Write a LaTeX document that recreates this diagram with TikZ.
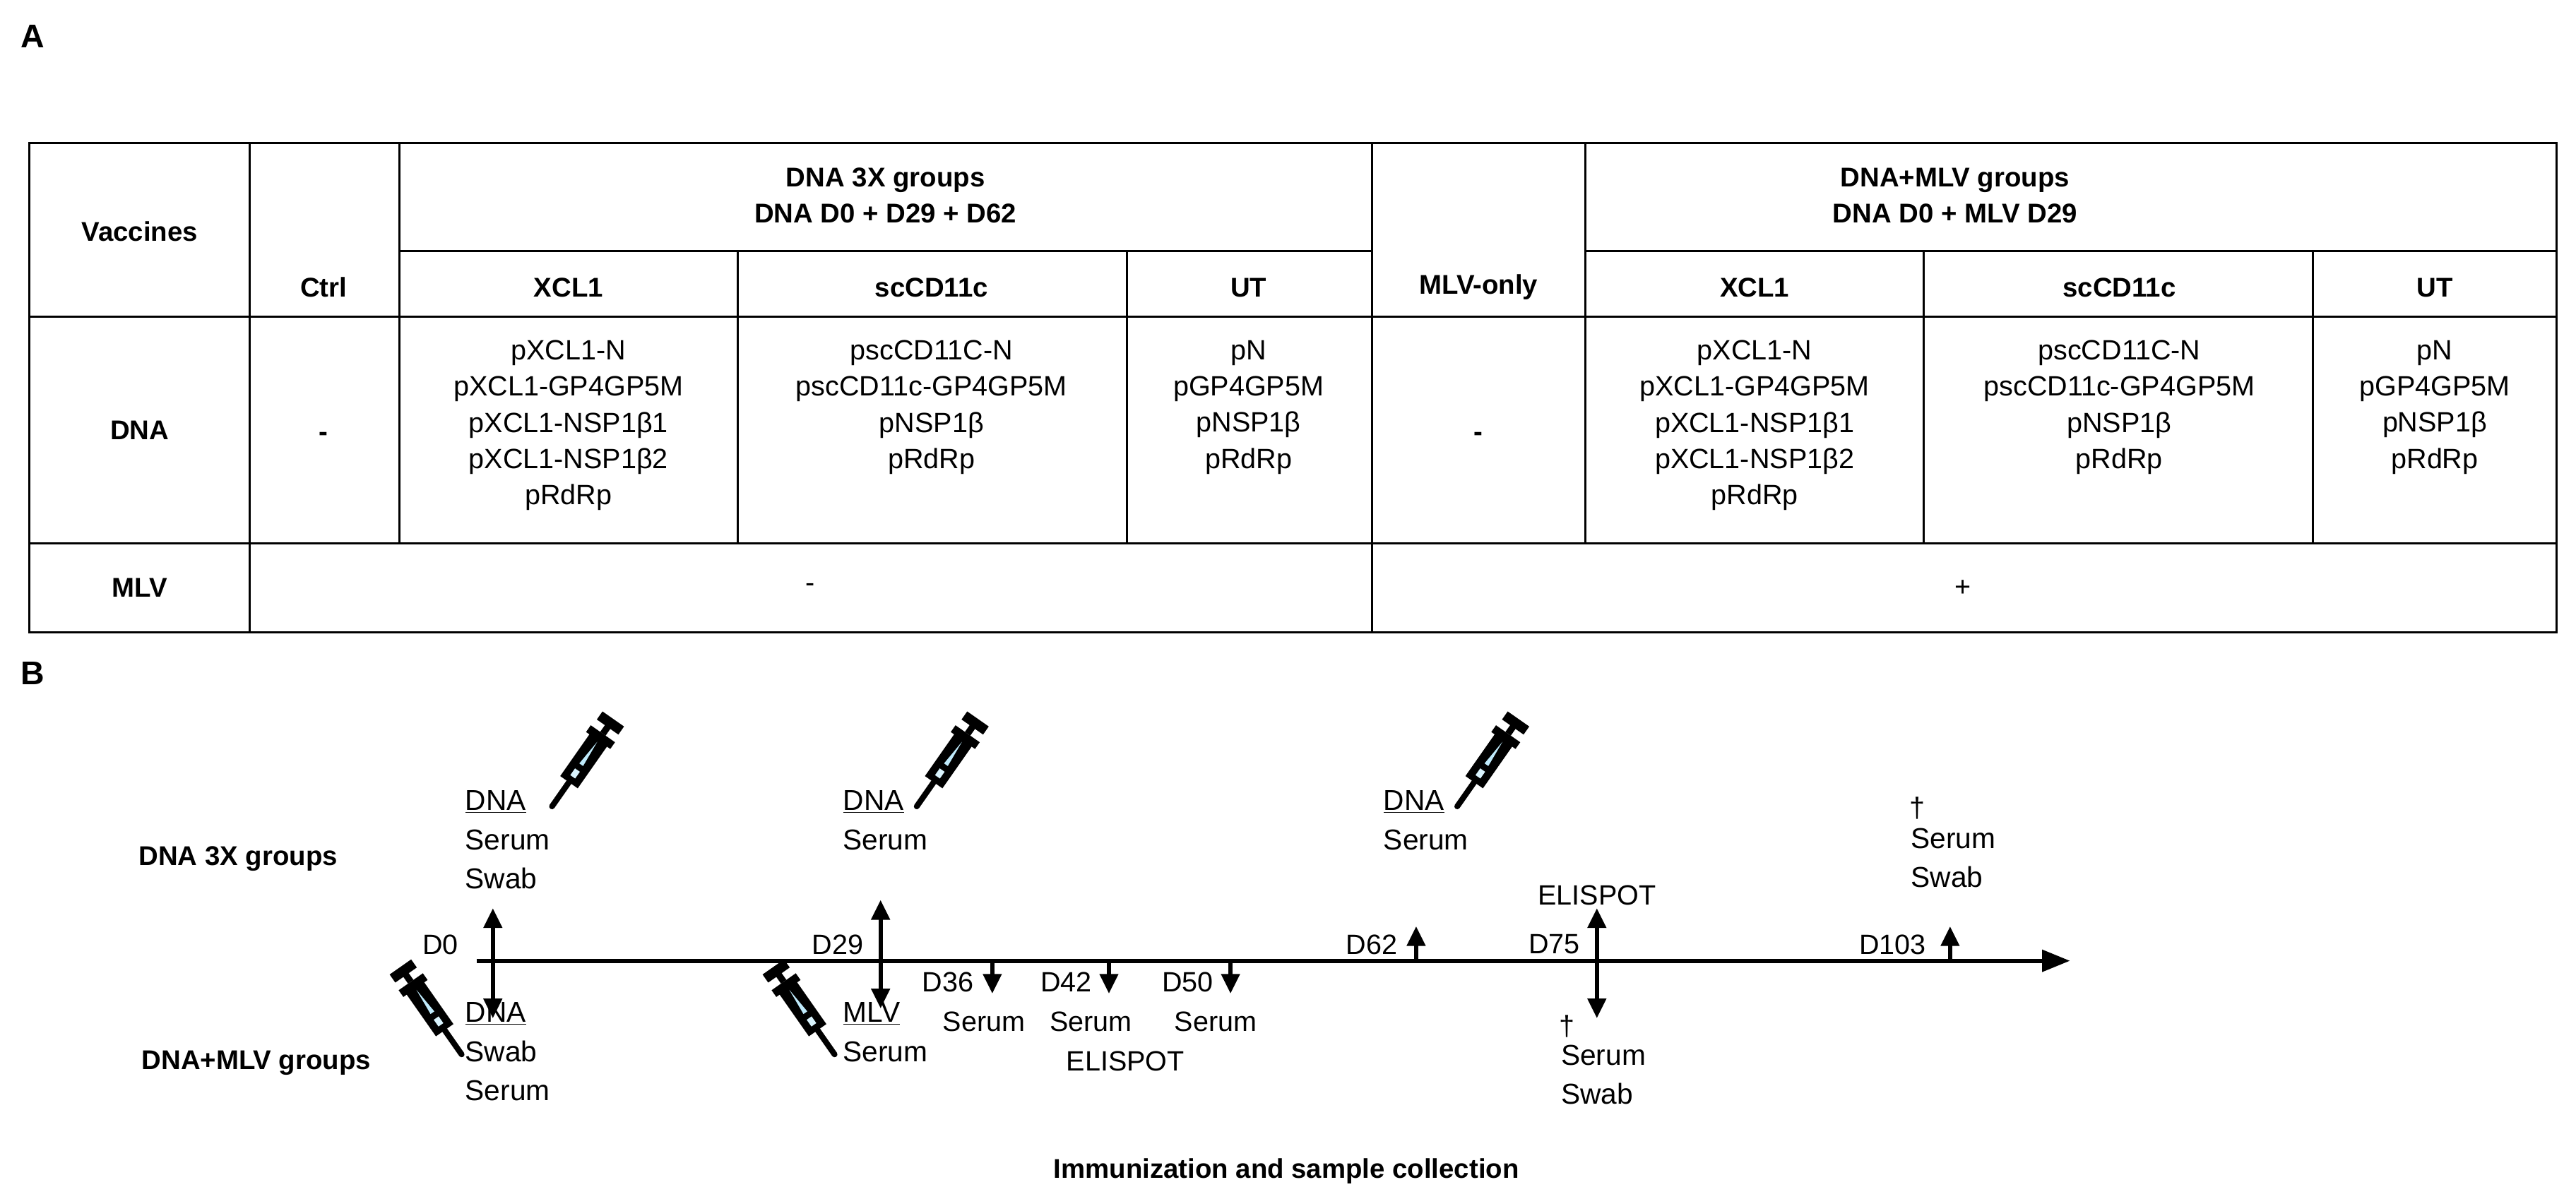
\documentclass[tikz,border=0pt]{standalone}
\usepackage{fontspec}
\setmainfont{Liberation Sans}
\usetikzlibrary{arrows.meta}
\begin{document}
\begin{tikzpicture}[x=1pt,y=-1pt,
  t/.style={font=\fontsize{17}{22}\selectfont,align=center,inner sep=0pt},
  b/.style={font=\fontsize{16.5}{22}\selectfont\bfseries,align=center,inner sep=0pt},
  tl/.style={font=\fontsize{17.5}{24}\selectfont,align=left,inner sep=0pt,anchor=north west},
  grid/.style={line width=1.3pt},
  ax/.style={line width=2.6pt},
  ar/.style={line width=2.6pt,-{Triangle[width=11pt,length=12pt]}},
  dar/.style={line width=2.6pt,{Triangle[width=11pt,length=12pt]}-{Triangle[width=11pt,length=12pt]}},
  syringe/.pic={
    \draw[line width=3.5pt,line cap=round] (0,0) -- (0,-18);
    \fill[black] (-6.5,-18) rectangle (6.5,-52);
    \fill[cyan!15] (-1.8,-22) rectangle (1.8,-27);
    \fill[cyan!25] (-1.4,-31) -- (1.4,-31) -- (0,-48) -- cycle;
    \fill[black] (-9,-49) rectangle (9,-54);
    \draw[line width=4pt] (0,-54) -- (0,-60);
    \fill[black] (-8,-59) rectangle (8,-65);
  }]
\useasboundingbox (0,0) rectangle (1568,730);
% labels
\node[b,font=\fontsize{20}{22}\selectfont\bfseries] (lA) at (20,22) {A};
\node[b,font=\fontsize{20}{22}\selectfont\bfseries] (lB) at (20,410) {B};
% table
\draw[grid] (18,87) rectangle (1556,385);
\draw[grid] (18,193) -- (1556,193);
\draw[grid] (18,331) -- (1556,331);
\draw[grid] (243,153) -- (835,153) (965,153) -- (1556,153);
\draw[grid] (152,87) -- (152,385);
\draw[grid] (243,87) -- (243,331);
\draw[grid] (835,87) -- (835,385);
\draw[grid] (965,87) -- (965,331);
\foreach \x in {449,686,1171,1408} \draw[grid] (\x,153) -- (\x,331);
\node[b] (hv) at (85,141) {Vaccines};
\node[b] (hc) at (197,175) {Ctrl};
\node[b] (h3) at (539,119) {DNA 3X groups\\DNA D0 + D29 + D62};
\node[b] (hm) at (1190,119) {DNA+MLV groups\\DNA D0 + MLV D29};
\node[b] (hx1) at (346,175) {XCL1};
\node[b] (hs1) at (567,175) {scCD11c};
\node[b] (hu1) at (760,175) {UT};
\node[b] (hmo) at (900,175) {MLV-only};
\node[b] (hx2) at (1068,175) {XCL1};
\node[b] (hs2) at (1290,175) {scCD11c};
\node[b] (hu2) at (1482,175) {UT};
\node[b] (rd) at (85,262) {DNA};
\node[b] (rm) at (85,358) {MLV};
\node[b] (d1) at (197,266) {-};
\node[b] (d2) at (900,266) {-};
\node[t] (x1) at (346,259) {pXCL1-N\\pXCL1-GP4GP5M\\pXCL1-NSP1β1\\pXCL1-NSP1β2\\pRdRp};
\node[t] (s1) at (567,248) {pscCD11C-N\\pscCD11c-GP4GP5M\\pNSP1β\\pRdRp};
\node[t] (u1) at (760,248) {pN\\pGP4GP5M\\pNSP1β\\pRdRp};
\node[t] (x2) at (1068,259) {pXCL1-N\\pXCL1-GP4GP5M\\pXCL1-NSP1β1\\pXCL1-NSP1β2\\pRdRp};
\node[t] (s2) at (1290,248) {pscCD11C-N\\pscCD11c-GP4GP5M\\pNSP1β\\pRdRp};
\node[t] (u2) at (1482,248) {pN\\pGP4GP5M\\pNSP1β\\pRdRp};
\node[t] (m1) at (493,358) {-};
\node[t] (m2) at (1195,358) {+};
% timeline
\coordinate (a0) at (290,585);
\coordinate (a1) at (1260,585);
\draw[ax,-{Triangle[width=13pt,length=17pt]}] (a0) -- (a1);
\node[b] (g1) at (145,523) {DNA 3X groups};
\node[b] (g2) at (156,647) {DNA+MLV groups};
\node[b] (cap) at (783,713) {Immunization and sample collection};
% D0
\coordinate (p0u) at (300,553); \coordinate (p0d) at (300,620);
\draw[dar] (p0d) -- (p0u);
\node[t] (l0) at (268,575) {D0};
\node[tl] (up0) at (283,481) {\underline{DNA}\\Serum\\Swab};
\node[tl] (dn0) at (283,610) {\underline{DNA}\\Swab\\Serum};
\pic[rotate=-35] at (336,491) {syringe};
\pic[rotate=35] at (281,642) {syringe};
% D29
\coordinate (p29u) at (536,548); \coordinate (p29d) at (536,614);
\draw[dar] (p29d) -- (p29u);
\node[t] (l29) at (510,575) {D29};
\node[tl] (up29) at (513,481) {\underline{DNA}\\Serum};
\node[tl] (dn29) at (513,610) {\underline{MLV}\\Serum};
\pic[rotate=-35] at (558,491) {syringe};
\pic[rotate=35] at (508,642) {syringe};
% D36 D42 D50
\foreach \x/\n in {604/36,675/42,749/50} {
  \coordinate (q\n) at (\x,585); \coordinate (e\n) at (\x,605);
  \draw[ar] (q\n) -- (e\n);
}
\node[t] (l36) at (577,598) {D36};
\node[t] (s36) at (599,622) {Serum};
\node[t] (l42) at (649,598) {D42};
\node[t] (s42) at (664,622) {Serum};
\node[t] (el42) at (685,646) {ELISPOT};
\node[t] (l50) at (723,598) {D50};
\node[t] (s50) at (740,622) {Serum};
% D62
\coordinate (q62) at (862,585); \coordinate (e62) at (862,564);
\draw[ar] (q62) -- (e62);
\node[t] (l62) at (835,575) {D62};
\node[tl] (up62) at (842,481) {\underline{DNA}\\Serum};
\pic[rotate=-35] at (887,491) {syringe};
% D75
\coordinate (p75u) at (972,553); \coordinate (p75d) at (972,620);
\draw[dar] (p75d) -- (p75u);
\node[t] (l75) at (946,575) {D75};
\node[t] (el75) at (972,545) {ELISPOT};
\node[t] (dg75) at (954,625) {†};
\node[tl] (dn75) at (950,636) {Serum\\Swab};
% D103
\coordinate (q103) at (1187,585); \coordinate (e103) at (1187,564);
\draw[ar] (q103) -- (e103);
\node[t] (l103) at (1152,575) {D103};
\node[t] (dg103) at (1167,492) {†};
\node[tl] (up103) at (1163,504) {Serum\\Swab};
\end{tikzpicture}
\end{document}
